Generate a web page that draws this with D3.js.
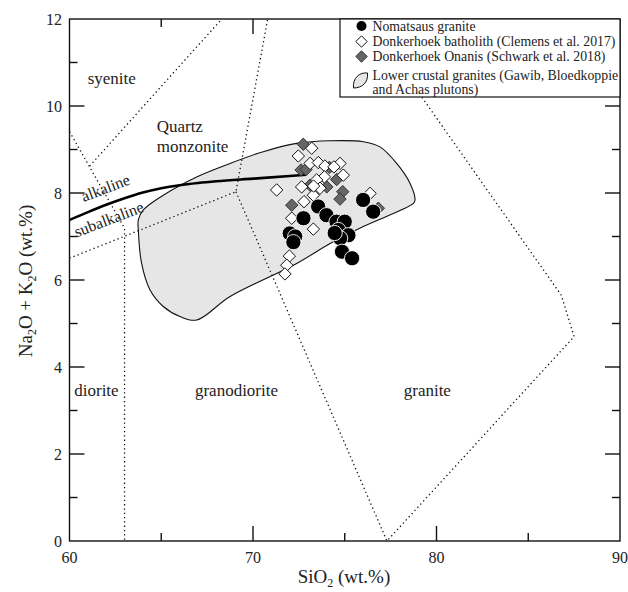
<!DOCTYPE html>
<html>
<head>
<meta charset="utf-8">
<script src="https://cdn.jsdelivr.net/npm/d3@7"></script>
<style>
  html, body { margin: 0; padding: 0; background: #fff; }
  svg text { font-family: "Liberation Serif", "Times New Roman", serif; fill: #222; }
</style>
</head>
<body>
<svg id="chart" width="628" height="592"></svg>
<script>
// ---------- data ----------
const xTicks = [60, 70, 80, 90];
const yTicks = [0, 2, 4, 6, 8, 10, 12];
const xMinorTicks = [65, 75, 85];
const yMinorTicks = [1, 3, 5, 7, 9, 11];

const nomatsausSiO2 = [76.0, 76.55, 73.55, 74.0, 72.75, 72.0, 72.3, 72.2, 74.55, 75.0, 74.65, 75.2, 74.75, 74.45, 74.85, 75.4];
const nomatsausAlk  = [7.84, 7.57, 7.69, 7.49, 7.42, 7.07, 7.00, 6.87, 7.34, 7.34, 7.15, 7.03, 6.96, 7.08, 6.65, 6.50];

const donkerhoekSiO2 = [73.2, 72.47, 73.11, 73.56, 73.92, 74.74, 74.41, 74.92, 73.89, 73.47, 72.65, 73.65, 71.29, 73.29, 72.78, 76.38, 72.11, 73.29, 71.98, 71.84, 71.74, 73.3];
const donkerhoekAlk  = [9.03, 8.85, 8.68, 8.70, 8.62, 8.68, 8.60, 8.41, 8.37, 8.30, 8.14, 8.11, 8.07, 7.95, 7.80, 7.99, 7.42, 7.17, 6.55, 6.34, 6.14, 8.16];

const onanisSiO2 = [72.74, 72.62, 72.89, 74.16, 73.11, 74.56, 74.02, 74.89, 74.74, 72.11, 76.83];
const onanisAlk  = [9.12, 8.53, 8.54, 8.59, 8.18, 8.31, 8.14, 8.03, 7.86, 7.72, 7.65];

const lowerCrustSiO2 = [63.75, 64.02, 65.11, 66.93, 68.75, 70.56, 72.38, 74.20, 76.01, 76.92, 77.83, 78.56, 78.83, 78.74, 76.01, 74.20, 72.38, 68.75, 66.93, 66.02, 65.11, 64.39, 63.93, 63.75];
const lowerCrustAlk  = [7.38, 7.61, 7.95, 8.37, 8.68, 8.95, 9.14, 9.20, 9.18, 9.06, 8.68, 8.22, 7.84, 7.76, 7.23, 6.84, 6.38, 5.62, 5.08, 5.16, 5.39, 5.77, 6.38, 7.15];

const alkalineSiO2 = [60, 61, 62, 63, 64, 65, 66, 67, 68, 70, 72, 72.9];
const alkalineAlk  = [7.38, 7.56, 7.73, 7.88, 8.01, 8.11, 8.18, 8.23, 8.27, 8.33, 8.39, 8.42];

// field boundaries (SiO2, Na2O+K2O)
const fieldLines = [
  [[60.0, 9.41], [63.0, 7.19], [63.0, 0]],
  [[61.1, 8.62], [68.3, 12]],
  [[60.0, 6.5], [69.07, 8.03], [70.8, 12]],
  [[69.07, 8.03], [77.3, 0], [87.5, 4.7], [86.8, 5.65], [76.2, 12]]
];

const fieldLabels = [
  { text: "syenite", x: 62.3, y: 10.5 },
  { text: "granodiorite", x: 69.1, y: 3.33 },
  { text: "diorite", x: 61.47, y: 3.33 },
  { text: "granite", x: 79.5, y: 3.33 }
];

const legendLabels = [
  "Nomatsaus granite",
  "Donkerhoek batholith (Clemens et al. 2017)",
  "Donkerhoek Onanis (Schwark et al. 2018)",
  "Lower crustal granites (Gawib, Bloedkoppie",
  "and Achas plutons)"
];

// ---------- chart ----------
const svg = d3.select("#chart");
const x = d3.scaleLinear().domain([60, 90]).range([69.5, 620]);
const y = d3.scaleLinear().domain([0, 12]).range([541, 19]);

const plot = svg.append("g");
svg.append("defs").append("clipPath").attr("id", "clip")
  .append("rect").attr("x", x(60)).attr("y", y(12)).attr("width", x(90) - x(60)).attr("height", y(0) - y(12));

// lower crustal polygon
const poly = lowerCrustSiO2.map((d, i) => [d, lowerCrustAlk[i]]);
plot.append("path")
  .attr("d", d3.line().x(d => x(d[0])).y(d => y(d[1])).curve(d3.curveCatmullRomClosed.alpha(0.5))(poly))
  .attr("fill", "#e6e6e6").attr("stroke", "#111").attr("stroke-width", 1.1);

// dotted field lines
const fl = plot.append("g").attr("clip-path", "url(#clip)");
fieldLines.forEach(pts => {
  fl.append("path")
    .attr("d", d3.line().x(d => x(d[0])).y(d => y(d[1]))(pts))
    .attr("fill", "none").attr("stroke", "#111").attr("stroke-width", 1.3)
    .attr("stroke-dasharray", "1.3,3");
});

// alkaline / subalkaline line
const alk = alkalineSiO2.map((d, i) => [d, alkalineAlk[i]]);
plot.append("path")
  .attr("d", d3.line().x(d => x(d[0])).y(d => y(d[1])).curve(d3.curveMonotoneX)(alk))
  .attr("fill", "none").attr("stroke", "#000").attr("stroke-width", 2.6);

// labels
fieldLabels.forEach(l => {
  plot.append("text").attr("x", x(l.x)).attr("y", y(l.y)).attr("text-anchor", "middle")
    .attr("font-size", 17).text(l.text);
});
plot.append("text").attr("x", x(64.75)).attr("y", 131.5).attr("font-size", 17).text("Quartz");
plot.append("text").attr("x", x(64.75)).attr("y", 151.5).attr("font-size", 17).text("monzonite");
plot.append("text").attr("font-size", 16).attr("text-anchor", "middle")
  .attr("transform", `translate(${x(62.07)},${y(8.0)}) rotate(-21)`).text("alkaline");
plot.append("text").attr("font-size", 16).attr("text-anchor", "middle")
  .attr("transform", `translate(${x(62.25)},${y(7.28)}) rotate(-21)`).text("subalkaline");

// markers
const dia = s => `M0,${-s}L${s},0L0,${s}L${-s},0Z`;
onanisSiO2.forEach((d, i) => {
  plot.append("path").attr("d", dia(6.2))
    .attr("transform", `translate(${x(d)},${y(onanisAlk[i])})`)
    .attr("fill", "#666").attr("stroke", "#333").attr("stroke-width", 1);
});
donkerhoekSiO2.forEach((d, i) => {
  plot.append("path").attr("d", dia(6.2))
    .attr("transform", `translate(${x(d)},${y(donkerhoekAlk[i])})`)
    .attr("fill", "#fff").attr("stroke", "#111").attr("stroke-width", 1);
});
nomatsausSiO2.forEach((d, i) => {
  plot.append("circle").attr("cx", x(d)).attr("cy", y(nomatsausAlk[i])).attr("r", 7.6)
    .attr("fill", "#000").attr("stroke", "#fff").attr("stroke-width", 0.9);
});

// frame
const ax = svg.append("g");
ax.append("rect").attr("x", x(60)).attr("y", y(12)).attr("width", x(90) - x(60)).attr("height", y(0) - y(12))
  .attr("fill", "none").attr("stroke", "#111").attr("stroke-width", 1.4);

// ticks (inward)
const tk = (x1, y1, x2, y2) => ax.append("line").attr("x1", x1).attr("y1", y1).attr("x2", x2).attr("y2", y2)
  .attr("stroke", "#111").attr("stroke-width", 1.4);
xTicks.slice(1, -1).forEach(v => { tk(x(v), y(0), x(v), y(0) - 15); tk(x(v), y(12), x(v), y(12) + 15); });
xMinorTicks.forEach(v => { tk(x(v), y(0), x(v), y(0) - 8); tk(x(v), y(12), x(v), y(12) + 8); });
yTicks.slice(1, -1).forEach(v => { tk(x(60), y(v), x(60) + 15, y(v)); tk(x(90), y(v), x(90) - 15, y(v)); });
yMinorTicks.forEach(v => { tk(x(60), y(v), x(60) + 8, y(v)); tk(x(90), y(v), x(90) - 8, y(v)); });

// tick labels
xTicks.forEach(v => ax.append("text").attr("x", x(v)).attr("y", 563).attr("text-anchor", "middle")
  .attr("font-size", 16).text(v));
yTicks.forEach(v => ax.append("text").attr("x", 62).attr("y", y(v) + 5.5).attr("text-anchor", "end")
  .attr("font-size", 16).text(v));

// axis titles
const xt = ax.append("text").attr("x", 344).attr("y", 583).attr("text-anchor", "middle").attr("font-size", 19);
xt.append("tspan").text("SiO");
xt.append("tspan").attr("font-size", 12).attr("dy", 4).text("2");
xt.append("tspan").attr("dy", -4).text(" (wt.%)");

const yt = ax.append("text").attr("transform", "translate(32,281) rotate(-90)").attr("text-anchor", "middle").attr("font-size", 19);
yt.append("tspan").text("Na");
yt.append("tspan").attr("font-size", 12).attr("dy", 4).text("2");
yt.append("tspan").attr("dy", -4).text("O + K");
yt.append("tspan").attr("font-size", 12).attr("dy", 4).text("2");
yt.append("tspan").attr("dy", -4).text("O (wt.%)");

// legend
const lg = svg.append("g");
lg.append("rect").attr("x", 340).attr("y", 19).attr("width", 280).attr("height", 78)
  .attr("fill", "#fff").attr("stroke", "#111").attr("stroke-width", 1.2);
const rows = [26, 41.5, 56.5, 75, 89];
const mx = 361.5, tx = 372.5;
lg.append("circle").attr("cx", mx).attr("cy", rows[0]).attr("r", 5).attr("fill", "#000");
lg.append("path").attr("d", dia(5.7)).attr("transform", `translate(${mx},${rows[1]})`)
  .attr("fill", "#fff").attr("stroke", "#111").attr("stroke-width", 1);
lg.append("path").attr("d", dia(5.7)).attr("transform", `translate(${mx},${rows[2]})`)
  .attr("fill", "#666").attr("stroke", "#333").attr("stroke-width", 1);
lg.append("path")
  .attr("d", `M${mx - 8},${88} C${mx - 9},${78} ${mx - 2},${72} ${mx + 6},${73} C${mx + 7},${82} ${mx + 1},${88} ${mx - 8},${88} Z`)
  .attr("fill", "#e6e6e6").attr("stroke", "#111").attr("stroke-width", 1);
legendLabels.forEach((t, i) => {
  lg.append("text").attr("x", tx).attr("y", rows[i] + 4.5).attr("font-size", 13.8).text(t);
});
</script>
</body>
</html>
